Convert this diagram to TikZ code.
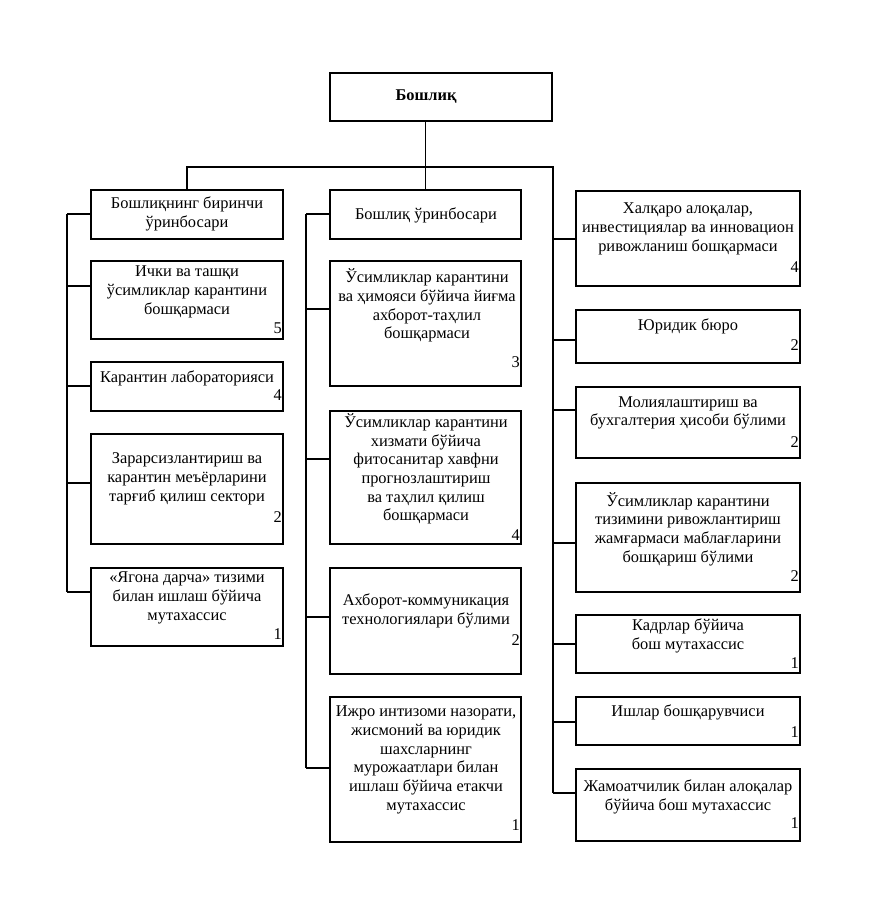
\documentclass[tikz,border=0pt]{standalone}
\usepackage{fontspec}
\setmainfont{Liberation Serif}
\begin{document}
\begin{tikzpicture}[x=1pt,y=-1pt,
  bx/.style={draw, line width=1.4pt, inner sep=0pt, rectangle},
  txt/.style={align=center, inner sep=0pt, font=\fontsize{16.4}{18.7}\selectfont},
  num/.style={anchor=east, inner sep=0pt, font=\fontsize{16.4}{18}\selectfont},
  conn/.style={line width=1.1pt}]
\useasboundingbox (0,0) rectangle (868,918);
% boxes
\node[bx, minimum width=222pt, minimum height=48pt] (Top) at (441,97) {};
\node[bx, minimum width=192pt, minimum height=49pt] (L1) at (187,214.5) {};
\node[bx, minimum width=192pt, minimum height=78pt] (L2) at (187,300) {};
\node[bx, minimum width=192pt, minimum height=49pt] (L3) at (187,386.5) {};
\node[bx, minimum width=192pt, minimum height=110pt] (L4) at (187,489) {};
\node[bx, minimum width=192pt, minimum height=78pt] (L5) at (187,607) {};
\node[bx, minimum width=191pt, minimum height=49pt] (M1) at (425.5,214.5) {};
\node[bx, minimum width=191pt, minimum height=125pt] (M2) at (425.5,323.5) {};
\node[bx, minimum width=191pt, minimum height=133pt] (M3) at (425.5,477.5) {};
\node[bx, minimum width=191pt, minimum height=106pt] (M4) at (425.5,621) {};
\node[bx, minimum width=191pt, minimum height=145pt] (M5) at (425.5,769.5) {};
\node[bx, minimum width=224pt, minimum height=95pt] (R1) at (688,238.5) {};
\node[bx, minimum width=224pt, minimum height=53pt] (R2) at (688,336.5) {};
\node[bx, minimum width=224pt, minimum height=71pt] (R3) at (688,422.5) {};
\node[bx, minimum width=224pt, minimum height=109pt] (R4) at (688,537.5) {};
\node[bx, minimum width=224pt, minimum height=58pt] (R5) at (688,644) {};
\node[bx, minimum width=224pt, minimum height=48pt] (R6) at (688,721) {};
\node[bx, minimum width=224pt, minimum height=72pt] (R7) at (688,805) {};
% texts
\node[txt, font=\fontsize{16.4}{18.7}\selectfont\bfseries] (tTop) at (426,97) {Бошлиқ};
\node[txt] (tL1) at (187,214) {Бошлиқнинг биринчи\\ ўринбосари};
\node[txt] (tL2) at (187,292) {Ички ва ташқи\\ ўсимликлар карантини\\ бошқармаси};
\node[txt] (tL3) at (187,378) {Карантин лабораторияси};
\node[txt] (tL4) at (187,479) {Зарарсизлантириш ва\\ карантин меъёрларини\\ тарғиб қилиш сектори};
\node[txt] (tL5) at (187,598) {«Ягона дарча» тизими\\ билан ишлаш бўйича\\ мутахассис};
\node[txt] (tM1) at (426,215) {Бошлиқ ўринбосари};
\node[txt] (tM2) at (427,305.5) {Ўсимликлар карантини\\ ва ҳимояси бўйича йиғма\\ ахборот-таҳлил\\ бошқармаси};
\node[txt] (tM3) at (426,469) {Ўсимликлар карантини\\ хизмати бўйича\\ фитосанитар хавфни\\ прогнозлаштириш\\ ва таҳлил қилиш\\ бошқармаси};
\node[txt] (tM4) at (426,611) {Ахборот-коммуникация\\ технологиялари бўлими};
\node[txt] (tM5) at (426,760) {Ижро интизоми назорати,\\ жисмоний ва юридик\\ шахсларнинг\\ мурожаатлари билан\\ ишлаш бўйича етакчи\\ мутахассис};
\node[txt] (tR1) at (688,229) {Халқаро алоқалар,\\ инвестициялар ва инновацион\\ ривожланиш бошқармаси};
\node[txt] (tR2) at (688,326) {Юридик бюро};
\node[txt] (tR3) at (688,413) {Молиялаштириш ва\\ бухгалтерия ҳисоби бўлими};
\node[txt] (tR4) at (688,529) {Ўсимликлар карантини\\ тизимини ривожлантириш\\ жамғармаси маблағларини\\ бошқариш бўлими};
\node[txt] (tR5) at (688,636) {Кадрлар бўйича\\ бош мутахассис};
\node[txt] (tR6) at (688,712) {Ишлар бошқарувчиси};
\node[txt] (tR7) at (688,797) {Жамоатчилик билан алоқалар\\ бўйича бош мутахассис};
% numbers
\node[num] (nL2) at (282,328) {5};
\node[num] (nL3) at (282,395) {4};
\node[num] (nL4) at (282,517) {2};
\node[num] (nL5) at (282,634) {1};
\node[num] (nM2) at (520,362) {3};
\node[num] (nM3) at (520,535) {4};
\node[num] (nM4) at (520,640) {2};
\node[num] (nM5) at (520,825) {1};
\node[num] (nR1) at (799,267) {4};
\node[num] (nR2) at (799,345) {2};
\node[num] (nR3) at (799,442) {2};
\node[num] (nR4) at (799,576) {2};
\node[num] (nR5) at (799,663) {1};
\node[num] (nR6) at (799,732) {1};
\node[num] (nR7) at (799,823) {1};
% trunk coordinates
\coordinate (rt) at (553,167);
\coordinate (lt) at (187,167);
\coordinate (lb1) at (67,214);
\coordinate (lb2) at (67,286);
\coordinate (lb3) at (67,386);
\coordinate (lb4) at (67,483);
\coordinate (lb5) at (67,592);
\coordinate (mb1) at (306,214);
\coordinate (mb2) at (306,309);
\coordinate (mb3) at (306,459);
\coordinate (mb4) at (306,617);
\coordinate (mb5) at (306,768);
\coordinate (rb1) at (553,239);
\coordinate (rb2) at (553,340);
\coordinate (rb3) at (553,410);
\coordinate (rb4) at (553,543);
\coordinate (rb5) at (553,644);
\coordinate (rb6) at (553,722);
\coordinate (rb7) at (553,793);
% connectors
\draw[conn] (Top.south -| M1.north) -- (M1.north);
\draw[conn] (L1.north) -- (lt) -- (rt) -- (rb7);
\draw[conn] (lb1) -- (lb5);
\draw[conn] (mb1) -- (mb5);
\foreach \i in {1,...,5} {
  \draw[conn] (lb\i) -- (lb\i -| L\i.west);
  \draw[conn] (mb\i) -- (mb\i -| M\i.west);
}
\foreach \i in {1,...,7} {
  \draw[conn] (rb\i) -- (rb\i -| R\i.west);
}
\end{tikzpicture}
\end{document}
